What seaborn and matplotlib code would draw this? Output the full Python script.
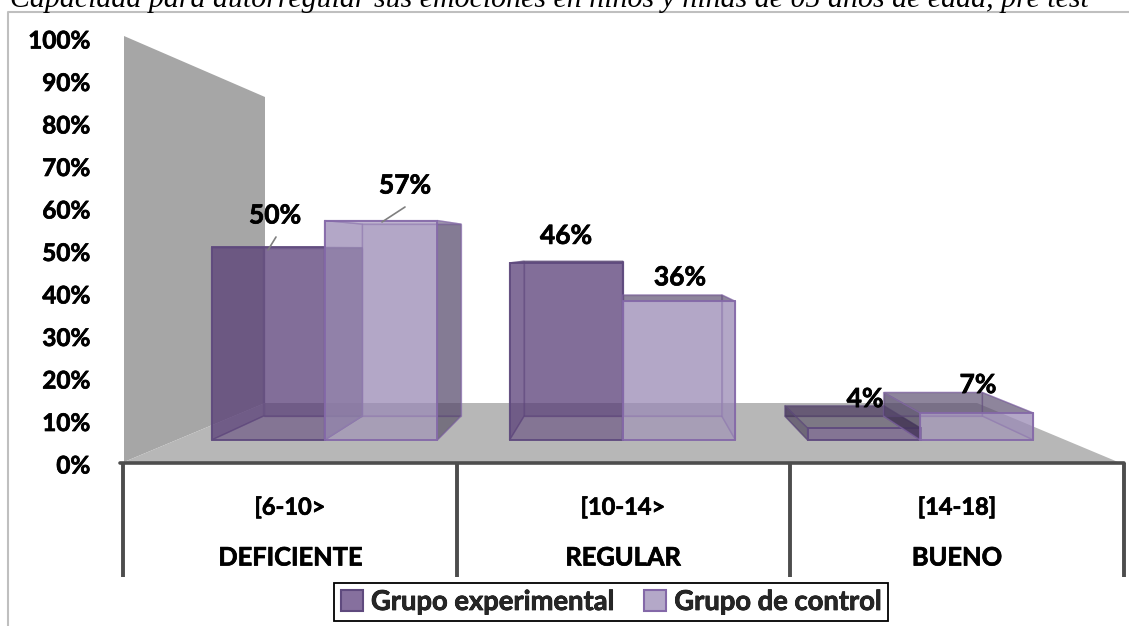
# Capacidad para autorregular sus emociones - barras con aspecto 3D

import pandas as pd
import matplotlib
matplotlib.use("Agg")
import matplotlib.pyplot as plt
import matplotlib.patheffects as pe
from matplotlib.colors import to_rgba
from matplotlib.patches import Patch, Polygon
from matplotlib.transforms import Affine2D
import seaborn as sns

rangos = ["[6-10>", "[10-14>", "[14-18]"]
niveles = ["DEFICIENTE", "REGULAR", "BUENO"]
grupos = ["Grupo experimental", "Grupo de control"]
experimental = [50, 46, 4]
control = [57, 36, 7]
# altura dibujada de cada barra (en el original no coincide del todo con la etiqueta)
alto_experimental = [50, 46, 3.1]
alto_control = [57, 36, 7]
ticks_y = list(range(0, 101, 10))

W, H = 1129, 626
sns.set_theme(style="white")
plt.rcParams["font.family"] = ["Lato", "DejaVu Sans"]
plt.rcParams["font.weight"] = "bold"

# Lato bold queda algo fino frente al original
grueso = [pe.withStroke(linewidth=0.5, foreground="black")]

df = pd.DataFrame({
    "rango": rangos * 2,
    "grupo": [grupos[0]] * 3 + [grupos[1]] * 3,
    "valor": alto_experimental + alto_control,
})

fig = plt.figure(figsize=(W / 100, H / 100), dpi=100)
ax = fig.add_axes([0, 0, 1, 1])
ax.set_zorder(1)
ax.patch.set_visible(False)

sns.barplot(data=df, x="rango", y="valor", hue="grupo", hue_order=grupos,
            width=0.758, gap=0, saturation=1, legend=False, ax=ax,
            palette=["#5A3F78", "#9B8BB6"])

# 298 px por categoria, 3.85 px por punto porcentual, base en y=440
ax.set_xlim(-324.5 / 298, (W - 324.5) / 298)
ax.set_ylim(-(H - 440) / 3.85, 440 / 3.85)
ax.axis("off")

# para dibujar el marco y los ejes en pixeles de la imagen
px = Affine2D().scale(1 / W, -1 / H).translate(0, 1) + fig.transFigure

# pared y piso
ax.add_patch(Polygon([(124, 36), (265, 97), (265, 403), (124, 462)], transform=px,
                     fc="#A6A6A6", ec="none", zorder=0.5))
ax.add_patch(Polygon([(124, 462), (265, 403), (977, 403), (1118, 462)], transform=px,
                     fc="#B7B7B7", ec="none", zorder=0.6))

# perspectiva: la cara trasera se encoge hacia el punto de fuga
k = 0.8745
fuga = (626 - 324.5) / 298
base_atras = 6.23


def atras(x, y):
    return k * x + (1 - k) * fuga, base_atras + k * y


def cara(puntos, color, alpha, borde, z):
    ax.add_patch(Polygon(puntos, fc=to_rgba(color, alpha), ec=to_rgba(borde, 0.5),
                         lw=1.0, zorder=z))


estilos = [("#5A3F78", "#5F4A7E"), ("#9B8BB6", "#8468A8")]
oscuro = "#2E2340"
z = 2
for cont, (color, borde) in zip(ax.containers, estilos):
    for bar in cont:
        x0, x1 = bar.get_x(), bar.get_x() + bar.get_width()
        y = bar.get_height()
        f = [(x0, 0), (x1, 0), (x1, y), (x0, y)]
        b = [atras(*p) for p in f]
        cara(b, color, 0.5, borde, z)                              # fondo
        cara([f[0], f[1], b[1], b[0]], color, 0.08, borde, z + 0.1)  # base
        # las caras laterales solo oscurecen si asoman por fuera del frente
        if b[0][0] < x0:
            cara([f[0], f[3], b[3], b[0]], oscuro, 0.5, borde, z + 0.2)
        else:
            cara([f[0], f[3], b[3], b[0]], color, 0.5, borde, z + 0.2)
        if b[1][0] > x1:
            cara([f[1], f[2], b[2], b[1]], oscuro, 0.45, borde, z + 0.3)
        else:
            cara([f[1], f[2], b[2], b[1]], color, 0.5, borde, z + 0.3)
        if b[3][1] > y:
            cara([f[3], f[2], b[2], b[3]], "#3A2F48", 0.42, borde, z + 0.4)
        else:
            cara([f[3], f[2], b[2], b[3]], color, 0.3, borde, z + 0.4)
        bar.set_facecolor(to_rgba(color, 0.5))
        bar.set_edgecolor(to_rgba(borde, 0.9))
        bar.set_linewidth(1.4)
        bar.set_zorder(z + 0.5)
    z += 1

# etiquetas de datos, desplazadas a mano (pixeles desde el centro de la tapa)
desplazamientos = {
    (0, 0): (7, 32), (0, 1): (0, 27), (0, 2): (1, 29),
    (1, 0): (24, 35), (1, 1): (1, 24), (1, 2): (1, 28),
}
for g, (cont, valores) in enumerate(zip(ax.containers, [experimental, control])):
    for c, (bar, v) in enumerate(zip(cont, valores)):
        dx, dy = desplazamientos[(g, c)]
        ax.annotate(f"{v}%", (bar.get_x() + bar.get_width() / 2, bar.get_height()),
                    xytext=(dx * 0.72, dy * 0.72), textcoords="offset points",
                    ha="center", va="center", fontsize=19, color="black", zorder=20,
                    path_effects=grueso)

# lineas guia de 50% y 57%
ax.plot([268, 276], [250, 237], color="#7F7F7F", lw=1.2, transform=px, zorder=19)
ax.plot([382, 405], [222, 207], color="#7F7F7F", lw=1.2, transform=px, zorder=19)

# eje de categorias en dos niveles
ax.plot([120, 1124], [463, 463], color="#4D4D4D", lw=2.6, transform=px, zorder=15)
for xs in [123, 457, 790, 1124]:
    ax.plot([xs, xs], [463, 577], color="#4D4D4D", lw=2.8, transform=px, zorder=15,
            solid_capstyle="butt")
for xc, r, n in zip([290, 623, 957], rangos, niveles):
    ax.text(xc, 507, r, transform=px, ha="center", va="center", fontsize=17, color="black",
            path_effects=grueso)
    ax.text(xc, 558, n, transform=px, ha="center", va="center", fontsize=18.3, color="black",
            path_effects=grueso)

# eje de porcentajes, con otra escala que las barras
ax_y = fig.add_axes([97 / W, 1 - 464 / H, 2 / W, (464 - 39) / H])
ax_y.set_zorder(2)
ax_y.patch.set_visible(False)
ax_y.set_ylim(0, 100)
ax_y.set_yticks(ticks_y)
ax_y.set_yticklabels([f"{t}%" for t in ticks_y], fontsize=17.5, color="black", fontweight="bold",
                     path_effects=grueso)
ax_y.set_xticks([])
ax_y.tick_params(axis="y", length=0, pad=5)
sns.despine(ax=ax_y, left=True, bottom=True)

# marco del grafico
ax.plot([8, 8, W], [626, 12, 12], color="#BFBFBF", lw=1.5, transform=px, zorder=1)

# titulo cortado por arriba, igual que en el original
fig.text(10 / W, 1 - 7 / H, "Capacidad para autorregular sus emociones en niños y niñas de 05 años de edad, pre test",
         family="Liberation Serif", style="italic", weight="normal", fontsize=21.5,
         color="black", va="baseline", ha="left")

manejadores = [Patch(fc="#86709E", ec="#5F4A7E", lw=1.5), Patch(fc="#B4A8C8", ec="#8468A8", lw=1.5)]
leg = fig.legend(manejadores, grupos, loc="center", bbox_to_anchor=(611 / W, 1 - 602 / H),
                 ncol=2, fontsize=19.7, frameon=True, fancybox=False, edgecolor="black",
                 framealpha=1, handlelength=0.8, handleheight=0.8, handletextpad=0.3,
                 columnspacing=1.1, borderpad=0.25)
leg.get_frame().set_linewidth(1.3)
for t in leg.get_texts():
    t.set_path_effects(grueso)

fig.savefig("out.png", dpi=100)
